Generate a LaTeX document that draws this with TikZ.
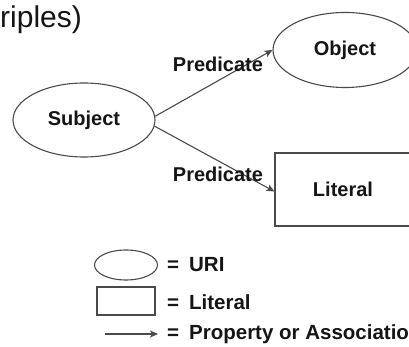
\documentclass[tikz,border=0pt]{standalone}
\usepackage{fontspec}
\setmainfont{Liberation Sans}
\usetikzlibrary{shapes.geometric,arrows.meta}
\definecolor{edgegray}{HTML}{4A4A4A}
\definecolor{inkblack}{HTML}{151515}
\tikzset{
  lbl/.style={font=\fontsize{20}{23}\selectfont\bfseries, text=inkblack, inner sep=0pt},
  keytext/.style={font=\fontsize{20.5}{23}\selectfont\bfseries, text=inkblack, inner sep=0pt, anchor=west},
  uri/.style={ellipse, draw=edgegray, line width=1.1pt, inner sep=0pt, lbl},
  lit/.style={rectangle, draw=edgegray, line width=1.1pt, inner sep=0pt, lbl},
  rel/.style={draw=edgegray, line width=1.1pt, -{Stealth[length=8pt,width=7pt,inset=2pt]}},
}
\begin{document}
\begin{tikzpicture}[x=1pt,y=-1pt]
  \useasboundingbox (0,0) rectangle (409,347);
  \clip (0,0) rectangle (409,347);

  % heading fragment
  \node[anchor=base west, inner sep=0pt, text=inkblack,
        font=\fontsize{30}{34}\selectfont] (title) at (0,28) {riples)};

  % triple
  \node[uri, minimum width=142pt, minimum height=74pt] (subj) at (84,120) {Subject};
  \node[uri, minimum width=144pt, minimum height=75pt] (obj) at (345,50) {Object};
  \node[lit, minimum width=136pt, minimum height=73pt] (litnode) at (343,189.5) {Literal};

  \draw[rel] (subj.3) -- (obj.west);
  \draw[rel] (subj.-5) -- ([yshift=-2pt]litnode.west);

  \node[lbl] (p1) at (218,64) {Predicate};
  \node[lbl] (p2) at (218,174) {Predicate};

  % legend
  \node[uri, minimum width=63pt, minimum height=30pt] (keyuri) at (126,265) {};
  \node[lit, minimum width=58pt, minimum height=28pt] (keylit) at (126,301) {};
  \coordinate (keya) at (105,334);
  \coordinate (keyb) at (158,334);
  \draw[rel] (keya) -- (keyb);

  \node[keytext] (t1) at (167,265) {=\hspace{10pt}URI};
  \node[keytext] (t2) at (167,302) {=\hspace{10pt}Literal};
  \node[keytext] (t3) at (167,334) {=\hspace{10pt}Property or Association};
\end{tikzpicture}
\end{document}
